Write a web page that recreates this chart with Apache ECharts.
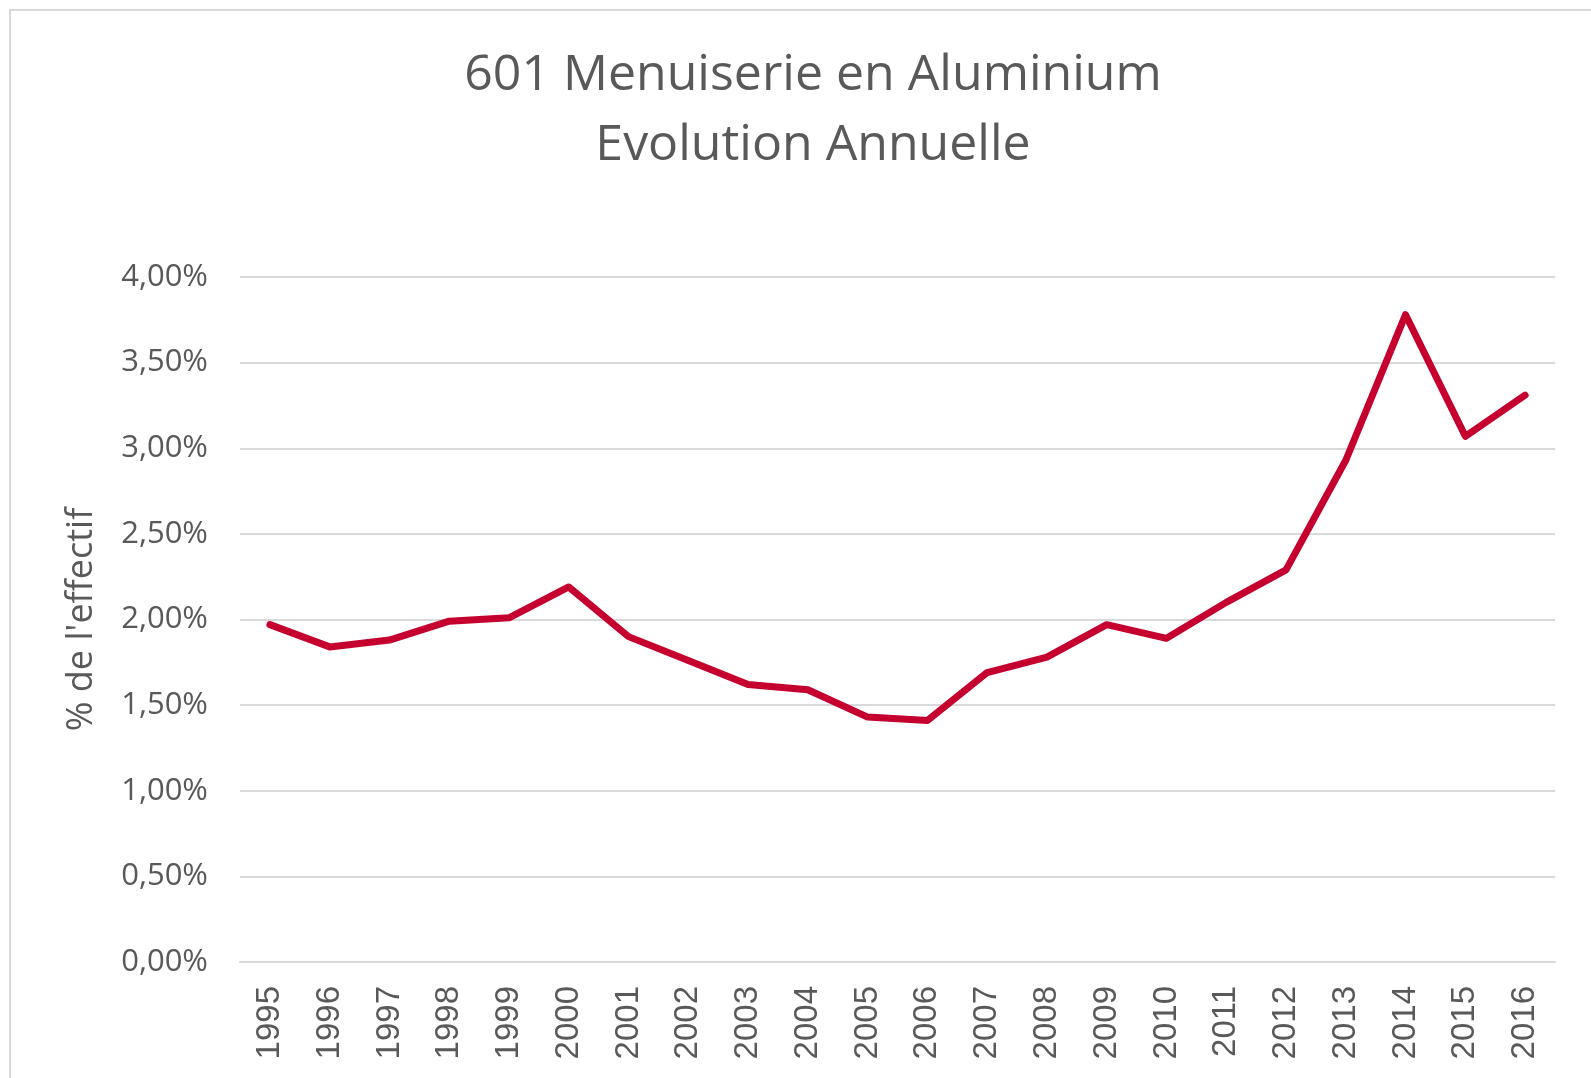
<!DOCTYPE html>
<html>
<head>
<meta charset="utf-8">
<script src="https://cdn.jsdelivr.net/npm/echarts@6/dist/echarts.min.js"></script>
<style>
html,body{margin:0;padding:0;background:#fff;}
#chart{width:1591px;height:1078px;}
</style>
</head>
<body>
<div id="chart"></div>
<script>
const titleLines = ['601 Menuiserie en Aluminium', 'Evolution Annuelle'];
const yAxisName = "% de l'effectif";
const years = ['1995','1996','1997','1998','1999','2000','2001','2002','2003','2004','2005','2006','2007','2008','2009','2010','2011','2012','2013','2014','2015','2016'];
const shareValues = [1.97,1.84,1.88,1.99,2.01,2.19,1.90,1.76,1.62,1.59,1.43,1.41,1.69,1.78,1.97,1.89,2.10,2.29,2.93,3.78,3.07,3.31];
const yMin = 0, yMax = 4, yStep = 0.5;

const chart = echarts.init(document.getElementById('chart'), null, {renderer:'canvas'});
chart.setOption({
  animation: false,
  backgroundColor: '#ffffff',
  graphic: [{
    type: 'rect',
    shape: {x: 10, y: 10, width: 1600, height: 1100},
    style: {fill: 'none', stroke: '#d9d9d9', lineWidth: 2},
    silent: true
  }],
  title: {
    text: titleLines.join('\n'),
    left: 808,
    top: 36,
    textAlign: 'center',
    textStyle: {
      fontFamily: 'Open Sans',
      fontSize: 50,
      fontWeight: 'normal',
      color: '#595959',
      lineHeight: 70
    }
  },
  grid: {left: 240, right: 36, top: 277, bottom: 116, containLabel: false},
  xAxis: {
    type: 'category',
    data: years,
    boundaryGap: true,
    axisLine: {show: true, lineStyle: {color: '#d9d9d9', width: 2}},
    axisTick: {show: false},
    axisLabel: {
      rotate: 90,
      margin: 24,
      interval: 0,
      fontFamily: 'Liberation Sans',
      fontSize: 33,
      color: '#595959'
    }
  },
  yAxis: {
    type: 'value',
    min: yMin, max: yMax, interval: yStep,
    name: yAxisName,
    nameLocation: 'middle',
    nameRotate: 90,
    nameGap: 140,
    nameTextStyle: {fontFamily: 'Open Sans', fontSize: 36, color: '#595959'},
    axisLine: {show: false},
    axisTick: {show: false},
    splitLine: {show: true, lineStyle: {color: '#d9d9d9', width: 2}},
    axisLabel: {
      margin: 32,
      fontFamily: 'Open Sans',
      fontSize: 31,
      color: '#595959',
      formatter: v => v.toFixed(2).replace('.', ',') + '%'
    }
  },
  series: [{
    type: 'line',
    data: shareValues,
    showSymbol: false,
    symbol: 'none',
    lineStyle: {color: '#C5002F', width: 7, join: 'round', cap: 'round'},
    itemStyle: {color: '#C5002F'}
  }]
});
</script>
</body>
</html>
